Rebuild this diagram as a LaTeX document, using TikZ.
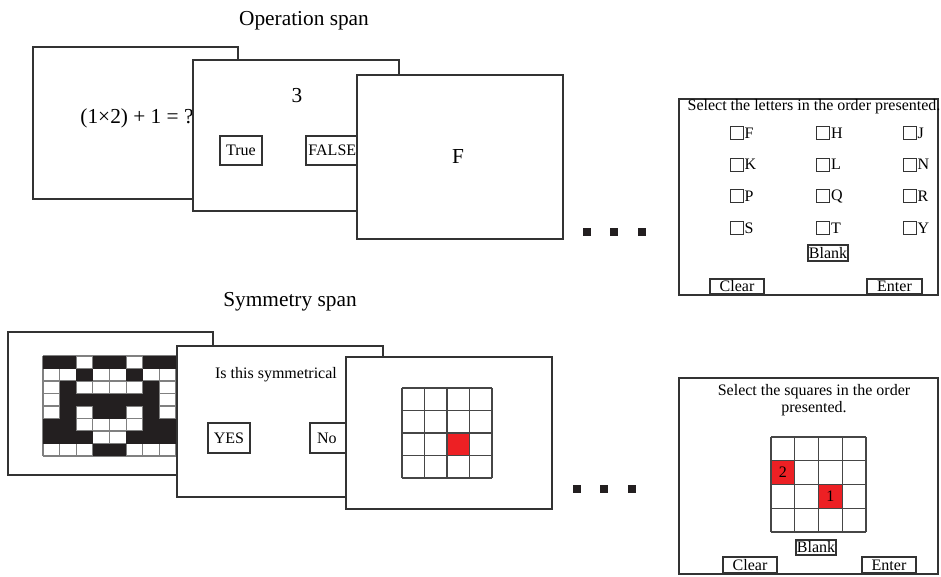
\documentclass[tikz,border=0pt]{standalone}
\usepackage{fontspec}
\setmainfont{Liberation Serif}
\usetikzlibrary{positioning}
\definecolor{FrameGray}{RGB}{51,51,51}
\definecolor{GridGray}{RGB}{70,70,70}
\definecolor{CellRed}{RGB}{237,32,36}
\definecolor{InkBlack}{RGB}{35,31,32}
\newcommand{\pxu}{0.75pt}
\tikzset{
  panel/.style={draw=FrameGray, fill=white, line width=1pt},
  btn/.style={draw=FrameGray, fill=white, line width=0.8pt, inner sep=0pt, font=\fontsize{12}{12}\selectfont},
  chkbox/.style={draw=FrameGray, line width=0.7pt, minimum size=13*\pxu, inner sep=0pt},
  gridline/.style={draw=GridGray, line width=0.8pt},
  bigtext/.style={font=\fontsize{16}{16}\selectfont},
  smalltext/.style={font=\fontsize{12}{13}\selectfont},
  dotmark/.style={fill=InkBlack, minimum size=8*\pxu, inner sep=0pt},
}

\begin{document}
\begin{tikzpicture}[x=\pxu, y=-\pxu]
\useasboundingbox (0,0) rectangle (941,577);

% Operation span
\node[bigtext] (optitle) at (304,21) {Operation span};
\filldraw[panel] (33,47) rectangle (238,199);
\node[bigtext] (opsum) at (137,118) {(1×2) + 1 = ?};
\filldraw[panel] (193,60) rectangle (399,211);
\node[bigtext] (opthree) at (297,96) {3};
\node[btn, minimum width=42*\pxu, minimum height=29*\pxu] (optrue) at (241,150.5) {True};
\node[btn, minimum width=58*\pxu, minimum height=29*\pxu] (opfalse) at (335,150.5) {FALSE\hspace*{4pt}};
\filldraw[panel] (357,75) rectangle (563,239);
\node[bigtext] (opletter) at (458,157) {F};
\foreach \xd [count=\k] in {587,614,642}
  \node[dotmark] (opdot\k) at (\xd,232) {};

% letter recall screen
\draw[panel] (679,99) rectangle (938,295);
\node[smalltext] (lettitle) at (814,107) {Select the letters in the order presented.};
\foreach \ltr [count=\k from 0] in {F,H,J,K,L,N,P,Q,R,S,T,Y} {
  \pgfmathsetmacro\bx{736.5+mod(\k,3)*86.5}
  \pgfmathsetmacro\by{133+int(\k/3)*31.7}
  \node[chkbox] (box\ltr) at (\bx,\by) {};
  \node[smalltext, inner sep=0pt, right=0.6pt of box\ltr] (lab\ltr) {\ltr};
}
\node[btn, minimum width=40*\pxu, minimum height=16*\pxu] (letblank) at (828,253) {Blank};
\node[btn, minimum width=54*\pxu, minimum height=15*\pxu] (letclear) at (737,286.5) {Clear};
\node[btn, minimum width=55*\pxu, minimum height=15*\pxu] (letenter) at (894.5,286.5) {Enter};

% Symmetry span
\node[bigtext] (symtitle) at (290,302) {Symmetry span};
\filldraw[panel] (8,332) rectangle (213,475);
\foreach \i in {0,...,8} {
  \draw[gridline, draw=gray, line width=0.9pt] (43+\i*16.625,356) -- ++(0,100);
  \draw[gridline, draw=gray, line width=0.9pt] (43,356+\i*12.5) -- ++(133,0);
}
\foreach \row [count=\r from 0] in {{1,1,0,1,1,0,1,1},{0,0,1,0,0,1,0,0},{0,1,0,0,0,0,1,0},{0,1,1,1,1,1,1,0},
    {0,1,0,1,1,0,1,0},{1,1,0,0,0,0,1,1},{1,1,1,0,0,1,1,1},{0,0,0,1,1,0,0,0}}
  \foreach \b [count=\c from 0] in \row {
    \ifnum\b=1 \fill[InkBlack] (43+\c*16.625,356+\r*12.5) rectangle ++(16.625,12.5); \fi
  }
\filldraw[panel] (177,346) rectangle (383,497);
\node[smalltext] (symask) at (276,375) {Is this symmetrical};
\node[btn, minimum width=42*\pxu, minimum height=30*\pxu] (symyes) at (229,438) {YES};
\node[btn, minimum width=50*\pxu, minimum height=30*\pxu, text width=36*\pxu] (symno) at (335,438) {No};
\filldraw[panel] (346,357) rectangle (552,509);
\fill[CellRed] (447,433) rectangle ++(22.5,22.5);
\foreach \i in {0,...,4} {
  \draw[gridline] (402+\i*22.5,388) -- ++(0,90);
  \draw[gridline] (402,388+\i*22.5) -- ++(90,0);
}
\foreach \xd [count=\k] in {577,604,632}
  \node[dotmark] (symdot\k) at (\xd,489) {};

% square recall screen
\draw[panel] (679,378) rectangle (938,574);
\node[smalltext, align=center] (sqtitle) at (814,400) {Select the squares in the order\\presented.};
\fill[CellRed] (771,460.75) rectangle ++(23.75,23.75);
\fill[CellRed] (818.5,484.5) rectangle ++(23.75,23.75);
\foreach \i in {0,...,4} {
  \draw[gridline] (771+\i*23.75,437) -- ++(0,95);
  \draw[gridline] (771,437+\i*23.75) -- ++(95,0);
}
\node[smalltext] (sqtwo) at (782.9,472.6) {2};
\node[smalltext] (sqone) at (830.4,496.4) {1};
\node[btn, minimum width=40*\pxu, minimum height=15*\pxu] (sqblank) at (816,547.5) {Blank};
\node[btn, minimum width=54*\pxu, minimum height=16*\pxu] (sqclear) at (750,565) {Clear};
\node[btn, minimum width=54*\pxu, minimum height=16*\pxu] (sqenter) at (889,565) {Enter};
\end{tikzpicture}
\end{document}
